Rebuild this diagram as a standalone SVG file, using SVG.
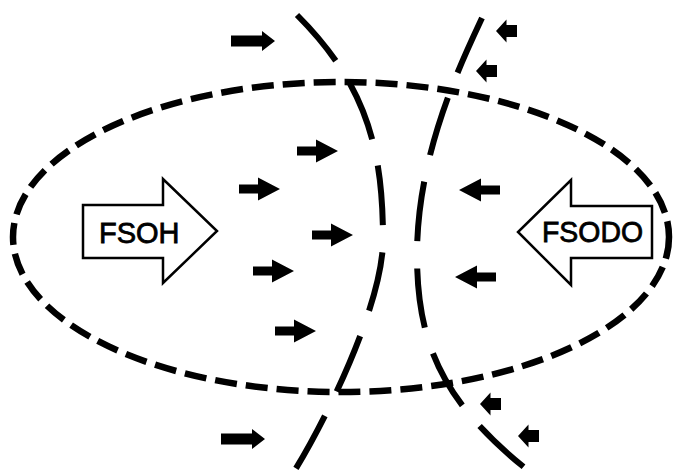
<svg xmlns="http://www.w3.org/2000/svg" width="676" height="470" viewBox="0 0 676 470">
  <style>
    .region { fill: none; stroke: #000; stroke-width: 6.5; stroke-dasharray: 22 9; }
    .front { fill: none; stroke: #000; stroke-width: 6; stroke-dasharray: 60 27; }
    .flow { fill: #000; }
    .big { fill: #fff; stroke: #000; stroke-width: 2.5; stroke-linejoin: miter; }
    .label { font-family: "Liberation Sans", Arial, sans-serif; font-size: 29px; fill: #000; stroke: #000; stroke-width: 0.8; }
  </style>
  <defs>
    <!-- small flow arrow, tip at origin, pointing right -->
    <path id="flow-in" d="M-41,-4.5 H-22 V-11.5 L0,0 L-22,11.5 V4.5 H-41 Z"/>
    <!-- long-shafted arrow outside the region -->
    <path id="flow-out-long" d="M-44,-5.5 H-13 V-10 L0,0 L-13,10 V5.5 H-44 Z"/>
    <!-- stubby arrow outside the region -->
    <path id="flow-out-short" d="M-21,-6 H-10.5 V-11.5 L0,0 L-10.5,11.5 V6 H-21 Z"/>
  </defs>

  <!-- dashed region boundary -->
  <g id="region">
    <ellipse class="region" cx="341" cy="237" rx="328" ry="155"/>
  </g>

  <!-- dashed fronts -->
  <g id="connectors">
    <path class="front" d="M297,15 C367,85 383,150 383,240 C383,300 332,409 295,470"/>
    <path class="front" d="M482,18 C460,65 417,155 417,255 C417,345 443.6,403.6 530,472"/>
  </g>

  <!-- flow arrows inside the region -->
  <g id="flows-left" class="flow">
    <use href="#flow-in" transform="translate(338,151)"/>
    <use href="#flow-in" transform="translate(280,189)"/>
    <use href="#flow-in" transform="translate(353,235)"/>
    <use href="#flow-in" transform="translate(294,271)"/>
    <use href="#flow-in" transform="translate(316,331)"/>
  </g>
  <g id="flows-right" class="flow">
    <use href="#flow-in" transform="translate(459,190) scale(-1,1)"/>
    <use href="#flow-in" transform="translate(455,277) scale(-1,1)"/>
  </g>

  <!-- flow arrows outside the region -->
  <g id="flows-outside" class="flow">
    <use href="#flow-out-long" transform="translate(275,41)"/>
    <use href="#flow-out-long" transform="translate(265,439)"/>
    <use href="#flow-out-short" transform="translate(496,31) scale(-1,1)"/>
    <use href="#flow-out-short" transform="translate(476,71) scale(-1,1)"/>
    <use href="#flow-out-short" transform="translate(480,404) scale(-1,1)"/>
    <use href="#flow-out-short" transform="translate(518,436) scale(-1,1)"/>
  </g>

  <!-- FSOH block arrow -->
  <g id="fsoh">
    <path class="big" d="M83,205 H163 V179 L217,231 L163,283 V258 H83 Z"/>
    <text class="label" x="99" y="243">FSOH</text>
  </g>

  <!-- FSODO block arrow -->
  <g id="fsodo">
    <path class="big" d="M652,206 H571 V180 L518,232 L571,285 V258 H652 Z"/>
    <text class="label" x="542" y="242" textLength="101" lengthAdjust="spacingAndGlyphs">FSODO</text>
  </g>
</svg>
